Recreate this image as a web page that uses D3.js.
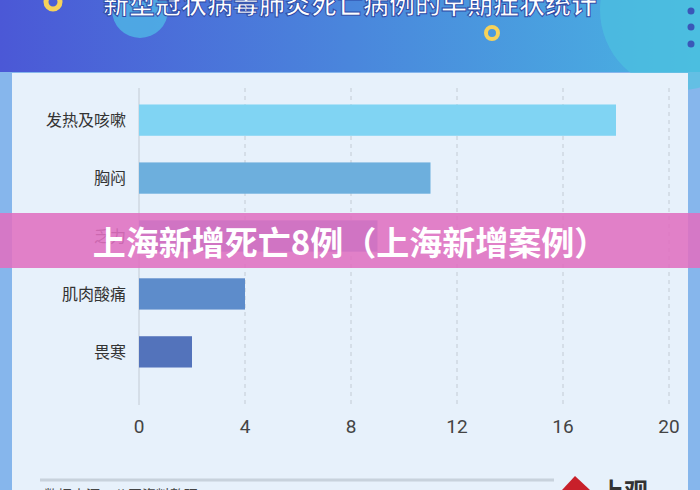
<!DOCTYPE html>
<html><head><meta charset="utf-8">
<script src="https://cdn.jsdelivr.net/npm/d3@7"></script>
<style>body{margin:0;overflow:hidden}svg{display:block;font-family:"Noto Sans CJK SC",sans-serif}</style>
</head><body><svg id="c" width="700" height="490"></svg>
<script>
var categories = ['发热及咳嗽', '胸闷', '乏力', '肌肉酸痛', '畏寒'];
var values = [18, 11, 9, 4, 2];
var barColors = ['#80d4f3', '#6dafdd', '#5f95d2', '#5d8ccb', '#5373bb'];
var tickValues = [0, 4, 8, 12, 16, 20];

var svg = d3.select('#c');
var defs = svg.append('defs');
var g1 = defs.append('linearGradient').attr('id', 'hdr');
g1.append('stop').attr('offset', '0').attr('stop-color', '#4b58d6');
g1.append('stop').attr('offset', '1').attr('stop-color', '#49b4e2');

svg.append('rect').attr('width', 700).attr('height', 490).attr('fill', '#86b6ec');
svg.append('rect').attr('width', 700).attr('height', 72).attr('fill', 'url(#hdr)');
svg.append('circle').attr('cx', 140).attr('cy', 10).attr('r', 28).attr('fill', '#4fb6e6').attr('opacity', 0.8);
svg.append('circle').attr('cx', 680).attr('cy', 10).attr('r', 80).attr('fill', '#4cc4e0').attr('opacity', 0.6);
svg.append('circle').attr('cx', 53).attr('cy', 2).attr('r', 7).attr('fill', 'none').attr('stroke', '#f6d25a').attr('stroke-width', 5);
svg.append('circle').attr('cx', 492).attr('cy', 33).attr('r', 6).attr('fill', 'none').attr('stroke', '#f6d25a').attr('stroke-width', 4);
[11, 27, 44].forEach(function(y) {
  svg.append('circle').attr('cx', 691).attr('cy', y).attr('r', 3.5).attr('fill', '#3a57b8');
});
svg.append('text').attr('x', 350).attr('y', 14).attr('text-anchor', 'middle')
  .attr('font-size', 26).attr('font-weight', 'bold').attr('fill', '#fff')
  .attr('stroke', '#2d4aa8').attr('stroke-width', 1).text('新型冠状病毒肺炎死亡病例的早期症状统计');

svg.append('rect').attr('x', 12).attr('y', 73).attr('width', 676).attr('height', 430).attr('fill', '#e7f1fb');

var x = d3.scaleLinear().domain([0, 16]).range([139, 563]);
var y = d3.scaleBand().domain(categories).range([90, 382]).paddingInner(0.46).paddingOuter(0.25);

svg.append('g').selectAll('line').data(tickValues.slice(1)).join('line')
  .attr('x1', d => x(d)).attr('x2', d => x(d)).attr('y1', 88).attr('y2', 405)
  .attr('stroke', '#c3cbd4').attr('stroke-dasharray', '4,4');
svg.append('line').attr('x1', 139).attr('x2', 139).attr('y1', 88).attr('y2', 405).attr('stroke', '#c3cbd4');

svg.append('g').selectAll('rect').data(values).join('rect')
  .attr('x', x(0)).attr('y', (d, i) => y(categories[i]))
  .attr('width', d => x(d) - x(0)).attr('height', y.bandwidth())
  .attr('fill', (d, i) => barColors[i]);

svg.append('g').selectAll('text').data(categories).join('text')
  .attr('x', 126).attr('y', d => y(d) + y.bandwidth() / 2 + 6)
  .attr('text-anchor', 'end').attr('font-size', 16).attr('fill', '#333').text(d => d);

svg.append('g').selectAll('text').data(tickValues).join('text')
  .attr('x', d => x(d)).attr('y', 433).attr('text-anchor', 'middle')
  .attr('font-family', 'Roboto').attr('font-size', 19).attr('fill', '#444').text(d => d);

svg.append('line').attr('x1', 40).attr('x2', 554).attr('y1', 480).attr('y2', 480)
  .attr('stroke', '#c8d2dc').attr('stroke-width', 3);
svg.append('text').attr('x', 44).attr('y', 500).attr('font-size', 14).attr('fill', '#444').text('数据来源：公开资料整理');
svg.append('path').attr('d', 'M562,490 L575,476 L590,490 Z').attr('fill', '#c8202a');
svg.append('text').attr('x', 600).attr('y', 500).attr('font-size', 24).attr('font-weight', 'bold').attr('fill', '#333').text('上观');

svg.append('rect').attr('x', 0).attr('y', 213).attr('width', 700).attr('height', 55)
  .attr('fill', '#e070c0').attr('opacity', 0.88);
svg.append('text').attr('x', 350).attr('y', 255).attr('text-anchor', 'middle')
  .attr('font-size', 33).attr('font-weight', 'bold').attr('fill', '#fff')
  .text('上海新增死亡8例（上海新增案例）');
</script></body></html>
